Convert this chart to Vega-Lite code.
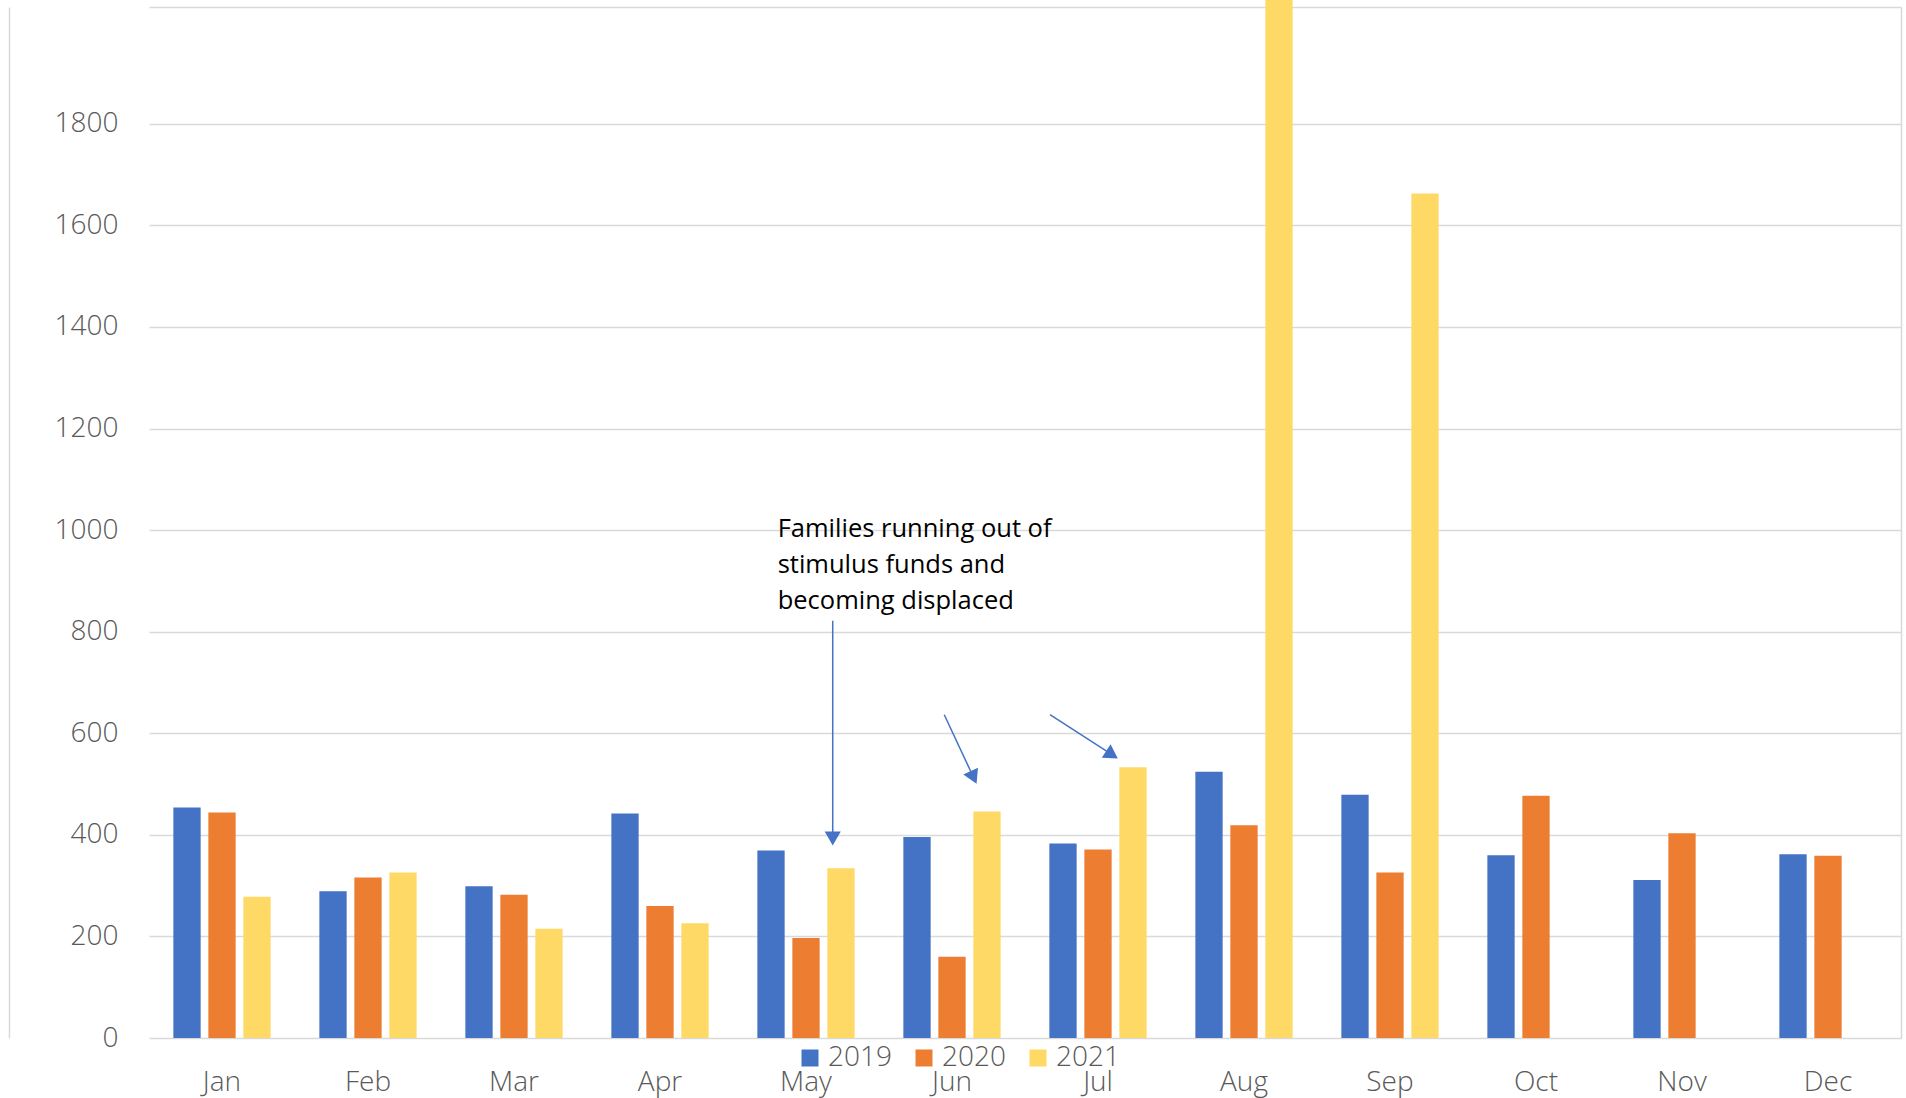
{
  "$schema": "https://vega.github.io/schema/vega-lite/v6.json",
  "width": 1752,
  "height": 1031,
  "autosize": {"type": "none"},
  "padding": {"left": 149, "top": 7, "right": 5, "bottom": 60},
  "background": "white",
  "config": {"view": {"stroke": null}, "font": "Open Sans"},
  "datasets": {
    "bars": [
      {"month": "Jan", "year": "2019", "value": 454}, {"month": "Jan", "year": "2020", "value": 444}, {"month": "Jan", "year": "2021", "value": 278},
      {"month": "Feb", "year": "2019", "value": 289}, {"month": "Feb", "year": "2020", "value": 316}, {"month": "Feb", "year": "2021", "value": 326},
      {"month": "Mar", "year": "2019", "value": 299}, {"month": "Mar", "year": "2020", "value": 282}, {"month": "Mar", "year": "2021", "value": 215},
      {"month": "Apr", "year": "2019", "value": 442}, {"month": "Apr", "year": "2020", "value": 260}, {"month": "Apr", "year": "2021", "value": 226},
      {"month": "May", "year": "2019", "value": 369}, {"month": "May", "year": "2020", "value": 197}, {"month": "May", "year": "2021", "value": 334},
      {"month": "Jun", "year": "2019", "value": 396}, {"month": "Jun", "year": "2020", "value": 160}, {"month": "Jun", "year": "2021", "value": 446},
      {"month": "Jul", "year": "2019", "value": 383}, {"month": "Jul", "year": "2020", "value": 371}, {"month": "Jul", "year": "2021", "value": 533},
      {"month": "Aug", "year": "2019", "value": 524}, {"month": "Aug", "year": "2020", "value": 419}, {"month": "Aug", "year": "2021", "value": 2100},
      {"month": "Sep", "year": "2019", "value": 479}, {"month": "Sep", "year": "2020", "value": 326}, {"month": "Sep", "year": "2021", "value": 1663},
      {"month": "Oct", "year": "2019", "value": 360}, {"month": "Oct", "year": "2020", "value": 477},
      {"month": "Nov", "year": "2019", "value": 311}, {"month": "Nov", "year": "2020", "value": 403},
      {"month": "Dec", "year": "2019", "value": 362}, {"month": "Dec", "year": "2020", "value": 359}
    ],
    "note": [
      {"x": 4.306, "y": 987, "label": "Families running out of\nstimulus funds and\nbecoming displaced"}
    ],
    "arrowLines": [
      {"x": 4.683, "y": 821.6, "x2": 4.683, "y2": 400},
      {"x": 5.447, "y": 636.5, "x2": 5.648, "y2": 512.9},
      {"x": 6.171, "y": 636.5, "x2": 6.596, "y2": 557.8}
    ],
    "arrowHeads": [
      {"arrow": "May", "x": 4.683, "y": 392.8},
      {"arrow": "Jun", "x": 5.648, "y": 512.9},
      {"arrow": "Jul", "x": 6.596, "y": 557.8}
    ]
  },
  "layer": [
    {
      "data": {"name": "bars"},
      "mark": {"type": "bar", "clip": false},
      "encoding": {
        "x": {
          "field": "month", "type": "nominal",
          "sort": ["Jan", "Feb", "Mar", "Apr", "May", "Jun", "Jul", "Aug", "Sep", "Oct", "Nov", "Dec"],
          "scale": {"paddingInner": 0, "paddingOuter": 0},
          "axis": {"title": null, "labelFontSize": 28, "labelColor": "#595959", "labelFontWeight": 300, "ticks": false, "domain": false, "grid": false, "labelPadding": 52, "labelBaseline": "alphabetic", "labelAngle": 0}
        },
        "xOffset": {
          "field": "year", "type": "nominal",
          "scale": {"domain": ["2019", "2020", "2021"], "paddingInner": 0.22, "paddingOuter": 0.696}
        },
        "y": {
          "field": "value", "type": "quantitative",
          "scale": {"domain": [0, 2030], "nice": false, "zero": true},
          "axis": {"title": null, "format": "d", "values": [0, 200, 400, 600, 800, 1000, 1200, 1400, 1600, 1800], "labelFontSize": 28, "labelColor": "#595959", "labelFontWeight": 300, "ticks": false, "offset": 140, "domain": true, "domainColor": "#D9D9D9", "domainWidth": 1.5, "labelAlign": "right", "labelPadding": -109, "gridColor": "#D9D9D9", "gridWidth": 1.5}
        },
        "color": {
          "field": "year", "type": "nominal",
          "scale": {"domain": ["2019", "2020", "2021"], "range": ["#4472C4", "#ED7D31", "#FFD966"]},
          "legend": {"orient": "none", "legendX": 647, "legendY": 1037, "direction": "horizontal", "title": null, "symbolType": "square", "symbolSize": 289, "symbolStrokeWidth": 0, "symbolOpacity": 1, "labelFontSize": 28, "labelFontWeight": 300, "labelColor": "#595959", "columnPadding": 18, "labelOffset": 4, "padding": 0}
        }
      }
    },
    {
      "layer": [
        {
          "data": {"name": "note"},
          "mark": {"type": "text", "font": "Open Sans", "fontSize": 25.5, "color": "#000000", "align": "left", "baseline": "alphabetic", "lineBreak": "\n", "lineHeight": 36},
          "encoding": {
            "x": {"field": "x", "type": "quantitative", "scale": {"domain": [0, 12], "nice": false, "zero": false}, "axis": {"orient": "top", "title": null, "labels": false, "ticks": false, "grid": false, "domain": true, "domainColor": "#D9D9D9", "domainWidth": 1.5}},
            "y": {"field": "y", "type": "quantitative", "axis": {"orient": "right", "title": null, "labels": false, "ticks": false, "grid": false, "domain": true, "domainColor": "#D9D9D9", "domainWidth": 1.5}},
            "text": {"field": "label"}
          }
        },
        {
          "data": {"name": "arrowLines"},
          "mark": {"type": "rule", "color": "#4472C4", "strokeWidth": 1.5},
          "encoding": {
            "x": {"field": "x", "type": "quantitative", "scale": {"domain": [0, 12], "nice": false, "zero": false}, "axis": {"orient": "top", "title": null, "labels": false, "ticks": false, "grid": false, "domain": true, "domainColor": "#D9D9D9", "domainWidth": 1.5}},
            "y": {"field": "y", "type": "quantitative", "axis": {"orient": "right", "title": null, "labels": false, "ticks": false, "grid": false, "domain": true, "domainColor": "#D9D9D9", "domainWidth": 1.5}},
            "x2": {"field": "x2"},
            "y2": {"field": "y2"}
          }
        },
        {
          "data": {"name": "arrowHeads"},
          "transform": [{"filter": "datum.arrow === 'May'"}],
          "mark": {"type": "point", "shape": "triangle-down", "filled": true, "color": "#4472C4", "size": 260, "opacity": 1, "angle": 0},
          "encoding": {
            "x": {"field": "x", "type": "quantitative", "scale": {"domain": [0, 12], "nice": false, "zero": false}, "axis": {"orient": "top", "title": null, "labels": false, "ticks": false, "grid": false, "domain": true, "domainColor": "#D9D9D9", "domainWidth": 1.5}},
            "y": {"field": "y", "type": "quantitative", "axis": {"orient": "right", "title": null, "labels": false, "ticks": false, "grid": false, "domain": true, "domainColor": "#D9D9D9", "domainWidth": 1.5}}
          }
        },
        {
          "data": {"name": "arrowHeads"},
          "transform": [{"filter": "datum.arrow === 'Jun'"}],
          "mark": {"type": "point", "shape": "triangle-down", "filled": true, "color": "#4472C4", "size": 260, "opacity": 1, "angle": -25},
          "encoding": {
            "x": {"field": "x", "type": "quantitative", "scale": {"domain": [0, 12], "nice": false, "zero": false}, "axis": {"orient": "top", "title": null, "labels": false, "ticks": false, "grid": false, "domain": true, "domainColor": "#D9D9D9", "domainWidth": 1.5}},
            "y": {"field": "y", "type": "quantitative", "axis": {"orient": "right", "title": null, "labels": false, "ticks": false, "grid": false, "domain": true, "domainColor": "#D9D9D9", "domainWidth": 1.5}}
          }
        },
        {
          "data": {"name": "arrowHeads"},
          "transform": [{"filter": "datum.arrow === 'Jul'"}],
          "mark": {"type": "point", "shape": "triangle-down", "filled": true, "color": "#4472C4", "size": 260, "opacity": 1, "angle": -57},
          "encoding": {
            "x": {"field": "x", "type": "quantitative", "scale": {"domain": [0, 12], "nice": false, "zero": false}, "axis": {"orient": "top", "title": null, "labels": false, "ticks": false, "grid": false, "domain": true, "domainColor": "#D9D9D9", "domainWidth": 1.5}},
            "y": {"field": "y", "type": "quantitative", "axis": {"orient": "right", "title": null, "labels": false, "ticks": false, "grid": false, "domain": true, "domainColor": "#D9D9D9", "domainWidth": 1.5}}
          }
        }
      ]
    }
  ],
  "resolve": {"scale": {"x": "independent"}, "axis": {"y": "independent"}}
}
